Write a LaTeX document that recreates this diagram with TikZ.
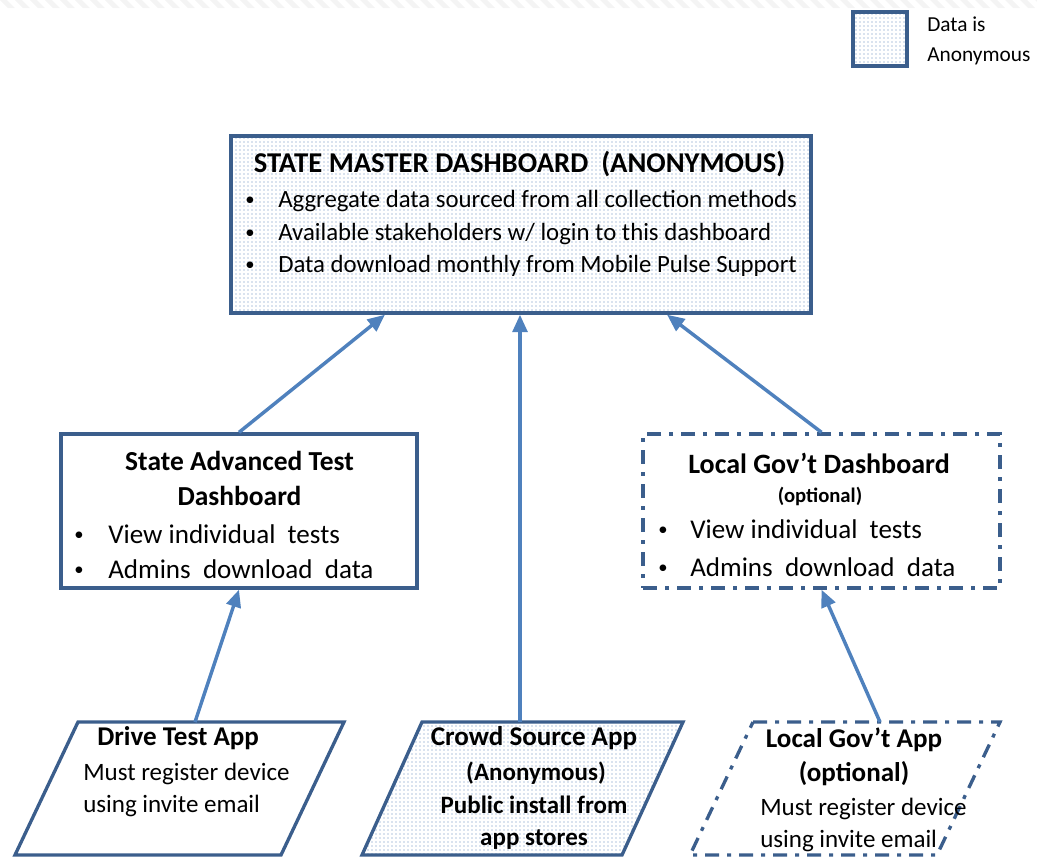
\documentclass[tikz,border=0pt]{standalone}
\usepackage{fontspec}
\setmainfont{Carlito}
\usetikzlibrary{patterns,arrows.meta,calc}
\definecolor{edgeblue}{HTML}{3B5E8C}
\definecolor{arrowblue}{HTML}{4F81BD}
\definecolor{dotblue}{HTML}{5E84BA}
\newcommand\fsz[1]{\fontsize{#1}{#1}\selectfont}
\begin{document}
\begin{tikzpicture}[x=0.75pt,y=-0.75pt,
  box/.style={draw=edgeblue,line width=2.5pt},
  dotfill/.style={pattern=dots,pattern color=dotblue},
  dashdot/.style={dash pattern=on 10.5pt off 6pt on 3pt off 6pt},
  arr/.style={draw=arrowblue,line width=2.6pt,-{Triangle[length=13pt,width=11pt]}},
  txt/.style={inner sep=0pt,text=black},
  bul/.style={txt,font=\fsz{14pt}},
  bodyA/.style={txt,font=\fsz{18.6pt}},
  bodyB/.style={txt,font=\fsz{20.3pt}},
  appbody/.style={txt,font=\fsz{18.75pt}},
  apptitle/.style={txt,font=\bfseries\fsz{20.3pt}},
]
\useasboundingbox (0,0) rectangle (1037,858);
% scan stripes at top
\foreach \i in {-15,0,...,1050}
  \fill[gray!9] (\i,0) -- (\i+7,0) -- (\i+15,8) -- (\i+8,8) -- cycle;

% legend
\node[box,dotfill,minimum width=40.5pt,minimum height=40.5pt,inner sep=0pt] (legend) at (880,39) {};
\node[txt,anchor=base west,font=\fsz{16pt}] (leg1) at (927,31) {Data is};
\node[txt,anchor=base west,font=\fsz{16pt}] (leg2) at (927,61) {Anonymous};

% master dashboard
\node[box,dotfill,minimum width=435pt,minimum height=132.75pt,inner sep=0pt] (master) at (521,224.5) {};
\node[txt,anchor=base,font=\bfseries\fsz{21.5pt}] (mtitle) at (519.5,172) {STATE MASTER DASHBOARD\ \ (ANONYMOUS)};
\node[bul,anchor=base west] (mb1) at (245,205) {\textbullet};
\node[bodyA,anchor=base west] (mt1) at (278,207) {Aggregate data sourced from all collection methods};
\node[bul,anchor=base west] (mb2) at (245,238) {\textbullet};
\node[bodyA,anchor=base west] (mt2) at (278,240) {Available stakeholders w/ login to this dashboard};
\node[bul,anchor=base west] (mb3) at (245,270) {\textbullet};
\node[bodyA,anchor=base west] (mt3) at (278,272) {Data download monthly from Mobile Pulse Support};

% state advanced test dashboard
\node[box,fill=white,minimum width=267pt,minimum height=115.5pt,inner sep=0pt] (sadv) at (239,511) {};
\node[txt,anchor=base,font=\bfseries\fsz{20.6pt}] (st1) at (239.5,470) {State Advanced Test};
\node[txt,anchor=base,font=\bfseries\fsz{20.6pt}] (st2) at (239.5,505) {Dashboard};
\node[bul,anchor=base west] (sb1) at (74,540) {\textbullet};
\node[bodyB,anchor=base west] (sl1) at (108,543) {View individual~ tests};
\node[bul,anchor=base west] (sb2) at (74,575) {\textbullet};
\node[bodyB,anchor=base west] (sl2) at (108,578) {Admins~ download~ data};

% local gov't dashboard
\node[box,dashdot,fill=white,minimum width=267.75pt,minimum height=115.5pt,inner sep=0pt] (ldash) at (821.5,511) {};
\node[txt,anchor=base,font=\bfseries\fsz{21pt}] (lt1) at (819,473) {Local Gov’t Dashboard};
\node[txt,anchor=base,font=\bfseries\fsz{15.5pt}] (lt2) at (820,502) {(optional)};
\node[bul,anchor=base west] (lb1) at (658,535) {\textbullet};
\node[bodyB,anchor=base west] (ll1) at (690,538) {View individual~ tests};
\node[bul,anchor=base west] (lb2) at (658,573) {\textbullet};
\node[bodyB,anchor=base west] (ll2) at (690,576) {Admins~ download~ data};

% drive test app
\draw[box,line join=miter] (15,855) -- (78,722) -- (344,722) -- (281,855) -- cycle;
\coordinate (dtop) at (195,722);
\node[apptitle,anchor=base west] (dt) at (97,745) {Drive Test App};
\node[appbody,anchor=base west] (d1) at (83,780) {Must register device};
\node[appbody,anchor=base west] (d2) at (83,812) {using invite email};

% crowd source app
\draw[box,dotfill,line join=miter] (362,855) -- (422,722) -- (683,722) -- (622,855) -- cycle;
\coordinate (ctop) at (520,722);
\node[apptitle,anchor=base] (ct) at (534,745) {Crowd Source App};
\node[txt,anchor=base,font=\bfseries\fsz{18.75pt}] (c1) at (536,780) {(Anonymous)};
\node[txt,anchor=base,font=\bfseries\fsz{18.75pt}] (c2) at (534,813) {Public install from};
\node[txt,anchor=base,font=\bfseries\fsz{18.75pt}] (c3) at (534,845) {app stores};

% local gov't app
\draw[box,dashdot] (753,722) -- (1000,722) -- (937,855) -- (690,855) -- cycle;
\coordinate (atop) at (880,722);
\node[apptitle,anchor=base] (at1) at (854,747) {Local Gov’t App};
\node[apptitle,anchor=base] (at2) at (854,781) {(optional)};
\node[appbody,anchor=base west] (a1) at (760,815) {Must register device};
\node[appbody,anchor=base west] (a2) at (760,847) {using invite email};

% connectors
\draw[arr] (dtop) -- (sadv.south);
\draw[arr] (sadv.north) -- ($(master.south)+(-136,0)$);
\draw[arr] (ctop) -- (master.south -| ctop);
\draw[arr] (ldash.north) -- ($(master.south)+(146,0)$);
\draw[arr] (atop) -- (ldash.south);
\end{tikzpicture}
\end{document}
